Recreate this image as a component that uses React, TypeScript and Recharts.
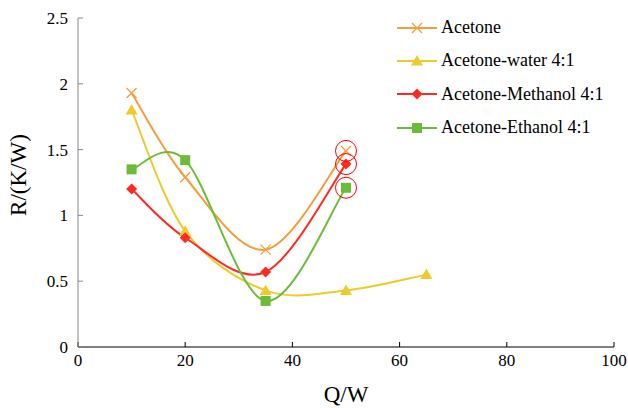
import React from 'react';
import {
  LineChart,
  Line,
  XAxis,
  YAxis,
  ReferenceDot,
  Label,
} from 'recharts';

const acetoneQ = [10, 20, 35, 50];
const acetoneR = [1.93, 1.29, 0.74, 1.49];
const waterQ = [10, 20, 35, 50, 65];
const waterR = [1.8, 0.88, 0.43, 0.43, 0.55];
const methanolQ = [10, 20, 35, 50];
const methanolR = [1.2, 0.83, 0.57, 1.39];
const ethanolQ = [10, 20, 35, 50];
const ethanolR = [1.35, 1.42, 0.35, 1.21];

const xTicks = [0, 20, 40, 60, 80, 100];
const yTicks = [0, 0.5, 1, 1.5, 2, 2.5];

// points that are circled in red
const circledQ = [50, 50, 50];
const circledR = [1.49, 1.39, 1.21];

const toRows = (q: number[], r: number[]) => q.map((x, i) => ({ q: x, r: r[i] }));

const series = [
  { name: 'Acetone', data: toRows(acetoneQ, acetoneR), color: '#F79D3A', shape: 'x' },
  { name: 'Acetone-water 4:1', data: toRows(waterQ, waterR), color: '#EECB2C', shape: 'triangle' },
  { name: 'Acetone-Methanol 4:1', data: toRows(methanolQ, methanolR), color: '#FF2B22', shape: 'diamond' },
  { name: 'Acetone-Ethanol 4:1', data: toRows(ethanolQ, ethanolR), color: '#6BBD38', shape: 'square' },
];

const FONT = "'Liberation Serif', 'Times New Roman', serif";

// Excel-style smoothed line (Catmull-Rom through the points)
const excelCurve = (context: any) => {
  let pts: number[][] = [];
  return {
    areaStart() {},
    areaEnd() {},
    lineStart() {
      pts = [];
    },
    point(x: number, y: number) {
      pts.push([+x, +y]);
    },
    lineEnd() {
      if (!pts.length) return;
      context.moveTo(pts[0][0], pts[0][1]);
      for (let i = 0; i < pts.length - 1; i++) {
        const p0 = pts[i - 1] || pts[i];
        const p1 = pts[i];
        const p2 = pts[i + 1];
        const p3 = pts[i + 2] || pts[i + 1];
        context.bezierCurveTo(
          p1[0] + (p2[0] - p0[0]) / 6,
          p1[1] + (p2[1] - p0[1]) / 6,
          p2[0] - (p3[0] - p1[0]) / 6,
          p2[1] - (p3[1] - p1[1]) / 6,
          p2[0],
          p2[1]
        );
      }
    },
  };
};

const Marker = ({ cx, cy, shape, color }: any) => {
  if (cx == null || cy == null) return null;
  if (shape === 'x') {
    const s = 5;
    return (
      <path
        d={`M${cx - s},${cy - s}L${cx + s},${cy + s}M${cx - s},${cy + s}L${cx + s},${cy - s}`}
        stroke={color}
        strokeWidth={1.3}
        fill="none"
      />
    );
  }
  if (shape === 'triangle') {
    return (
      <path
        d={`M${cx},${cy - 6}L${cx + 6},${cy + 4.5}L${cx - 6},${cy + 4.5}Z`}
        fill={color}
      />
    );
  }
  if (shape === 'diamond') {
    return (
      <path
        d={`M${cx},${cy - 5.5}L${cx + 5.5},${cy}L${cx},${cy + 5.5}L${cx - 5.5},${cy}Z`}
        fill={color}
      />
    );
  }
  return <rect x={cx - 5} y={cy - 5} width={10} height={10} fill={color} />;
};

const LegendBox = () => (
  <div
    style={{
      position: 'absolute',
      left: 395,
      top: 11,
      fontFamily: FONT,
      fontSize: 18,
      color: '#000',
    }}
  >
    {series.map((s) => (
      <div key={s.name} style={{ display: 'flex', alignItems: 'center', height: 33.3 }}>
        <svg width={44} height={16} style={{ display: 'block' }}>
          <line x1={2} y1={8} x2={42} y2={8} stroke={s.color} strokeWidth={2} />
          <Marker cx={22} cy={8} shape={s.shape} color={s.color} />
        </svg>
        <span style={{ marginLeft: 2, whiteSpace: 'nowrap' }}>{s.name}</span>
      </div>
    ))}
  </div>
);

const YTitle = () => (
  <text
    x={0}
    y={0}
    transform="translate(26,175) rotate(-90)"
    textAnchor="middle"
    style={{ fontFamily: FONT, fontSize: 23, fill: '#000' }}
  >
    R/(K/W)
  </text>
);

const XTick = ({ x, y, payload }: any) => (
  <text x={x} y={y} dy="0.71em" textAnchor="middle" style={{ fontFamily: FONT, fontSize: 17, fill: '#000' }}>
    {payload.value}
  </text>
);

const YTick = ({ x, y, payload }: any) => (
  <text x={x} y={y} dy="0.35em" textAnchor="end" style={{ fontFamily: FONT, fontSize: 17, fill: '#000' }}>
    {payload.value}
  </text>
);

export default function App() {
  return (
    <div style={{ position: 'absolute', left: 0, top: 0, width: 628, height: 408, background: '#fff' }}>
      <LineChart
        width={628}
        height={408}
        margin={{ top: 18, right: 14, left: 0, bottom: 0 }}
        style={{ fontFamily: FONT }}
      >
        <XAxis
          type="number"
          dataKey="q"
          domain={[0, 100]}
          ticks={xTicks}
          allowDuplicatedCategory={false}
          height={61}
          stroke="#000"
          tickSize={-5}
          tickMargin={12}
          tick={<XTick />}
        >
          <Label
            value="Q/W"
            position="insideBottom"
            offset={6}
            style={{ fontFamily: FONT, fontSize: 23, fill: '#000' }}
          />
        </XAxis>
        <YAxis
          type="number"
          domain={[0, 2.5]}
          ticks={yTicks}
          width={78}
          stroke="#888"
          tickSize={-5}
          tickMargin={15}
          tick={<YTick />}
        >
          <Label content={<YTitle />} />
        </YAxis>
        {series.map((s) => (
          <Line
            key={s.name}
            data={s.data}
            dataKey="r"
            name={s.name}
            type={excelCurve as any}
            stroke={s.color}
            strokeWidth={2}
            dot={(p: any) => <Marker key={`${s.name}-${p.index}`} cx={p.cx} cy={p.cy} shape={s.shape} color={s.color} />}
            activeDot={false}
            isAnimationActive={false}
          />
        ))}
        {circledQ.map((q, i) => (
          <ReferenceDot
            key={i}
            x={q}
            y={circledR[i]}
            r={10.5}
            fill="none"
            stroke="#FF0000"
            strokeWidth={1}
          />
        ))}
      </LineChart>
      <LegendBox />
    </div>
  );
}
